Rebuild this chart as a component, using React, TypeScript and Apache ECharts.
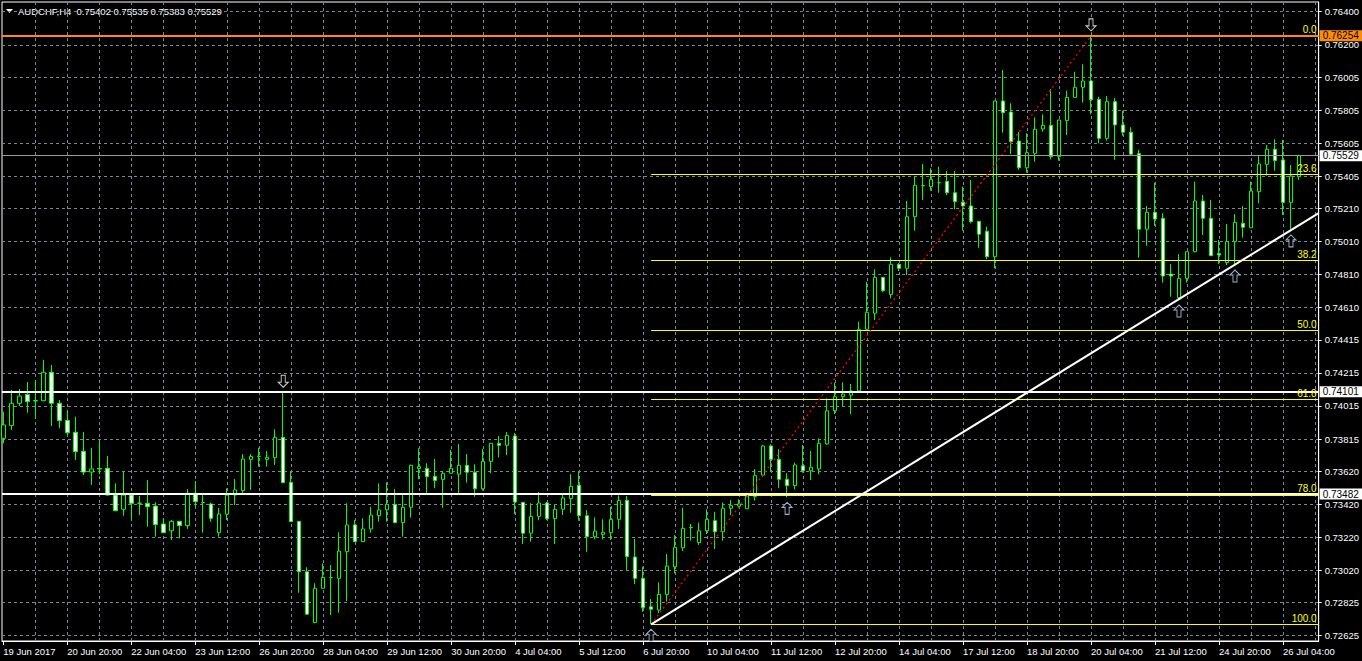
import React, { useEffect, useRef } from "react";
import * as echarts from "echarts";

// ---------- data ----------
const symbolName = "AUDCHF,H4";

const opens = [
  0.73819, 0.73896, 0.74031, 0.74085, 0.74045, 0.74047, 0.74219, 0.74031, 0.73928, 0.73856,
  0.73741, 0.73615, 0.73636, 0.73638, 0.73476, 0.73390, 0.73476, 0.73426, 0.73426, 0.73409,
  0.73301, 0.73260, 0.73317, 0.73291, 0.73487, 0.73430, 0.73422, 0.73248, 0.73360, 0.73476,
  0.73503, 0.73692, 0.73710, 0.73692, 0.73702, 0.73825, 0.73553, 0.73317, 0.73012, 0.72705,
  0.72912, 0.72976, 0.72972, 0.73133, 0.73295, 0.73194, 0.73271, 0.73351, 0.73386, 0.73420,
  0.73309, 0.73402, 0.73636, 0.73636, 0.73589, 0.73571, 0.73608, 0.73602, 0.73656, 0.73614,
  0.73514, 0.73680, 0.73789, 0.73777, 0.73833, 0.73432, 0.73245, 0.73347, 0.73428, 0.73333,
  0.73390, 0.73454, 0.73535, 0.73351, 0.73224, 0.73238, 0.73248, 0.73329, 0.73444, 0.73101,
  0.72972, 0.72800, 0.72780, 0.72875, 0.73042, 0.73157, 0.73279, 0.73188, 0.73260, 0.73321,
  0.73254, 0.73396, 0.73409, 0.73393, 0.73466, 0.73597, 0.73773, 0.73692, 0.73571, 0.73533,
  0.73653, 0.73623, 0.73634, 0.73785, 0.73986, 0.74071, 0.74080, 0.74106, 0.74479, 0.74576,
  0.74793, 0.74690, 0.74872, 0.74848, 0.75160, 0.75348, 0.75342, 0.75366, 0.75374, 0.75305,
  0.75247, 0.75225, 0.75132, 0.75072, 0.74918, 0.75860, 0.75793, 0.75618, 0.75456, 0.75543,
  0.75691, 0.75713, 0.75523, 0.75741, 0.75882, 0.75943, 0.75981, 0.75870, 0.75634, 0.75856,
  0.75715, 0.75671, 0.75543, 0.75084, 0.75187, 0.75150, 0.74813, 0.74670, 0.74787, 0.74948,
  0.75255, 0.75150, 0.74938, 0.74882, 0.75009, 0.75120, 0.75093, 0.75311, 0.75477, 0.75568,
  0.75503, 0.75247, 0.75402,
];

const closes = [
  0.73900, 0.74031, 0.74075, 0.74041, 0.74048, 0.74219, 0.74031, 0.73926, 0.73853, 0.73738,
  0.73615, 0.73634, 0.73634, 0.73476, 0.73381, 0.73476, 0.73426, 0.73427, 0.73405, 0.73297,
  0.73248, 0.73317, 0.73291, 0.73487, 0.73436, 0.73431, 0.73335, 0.73361, 0.73476, 0.73507,
  0.73694, 0.73710, 0.73711, 0.73704, 0.73825, 0.73551, 0.73315, 0.73012, 0.72755, 0.72912,
  0.72978, 0.72977, 0.73137, 0.73295, 0.73194, 0.73271, 0.73355, 0.73386, 0.73420, 0.73309,
  0.73402, 0.73656, 0.73648, 0.73587, 0.73564, 0.73608, 0.73638, 0.73656, 0.73614, 0.73514,
  0.73680, 0.73789, 0.73777, 0.73837, 0.73434, 0.73245, 0.73347, 0.73428, 0.73333, 0.73390,
  0.73458, 0.73529, 0.73351, 0.73224, 0.73258, 0.73251, 0.73329, 0.73444, 0.73103, 0.72972,
  0.72794, 0.72785, 0.72875, 0.73046, 0.73160, 0.73275, 0.73280, 0.73260, 0.73329, 0.73254,
  0.73396, 0.73412, 0.73422, 0.73470, 0.73593, 0.73773, 0.73692, 0.73571, 0.73533, 0.73658,
  0.73623, 0.73644, 0.73789, 0.73986, 0.74071, 0.74087, 0.74106, 0.74479, 0.74582, 0.74793,
  0.74712, 0.74872, 0.74848, 0.75160, 0.75350, 0.75347, 0.75386, 0.75365, 0.75305, 0.75251,
  0.75225, 0.75130, 0.75054, 0.74918, 0.75860, 0.75789, 0.75614, 0.75456, 0.75547, 0.75689,
  0.75713, 0.75523, 0.75745, 0.75882, 0.75943, 0.75981, 0.75868, 0.75634, 0.75856, 0.75715,
  0.75671, 0.75538, 0.75084, 0.75187, 0.75146, 0.74801, 0.74801, 0.74787, 0.74948, 0.75255,
  0.75150, 0.74924, 0.74928, 0.75009, 0.75126, 0.75096, 0.75315, 0.75479, 0.75568, 0.75499,
  0.75247, 0.75406, 0.75529,
];

const lows = [
  0.73789, 0.73870, 0.74015, 0.73974, 0.73936, 0.74045, 0.73894, 0.73880, 0.73839, 0.73688,
  0.73597, 0.73537, 0.73602, 0.73473, 0.73379, 0.73351, 0.73321, 0.73355, 0.73284, 0.73224,
  0.73246, 0.73204, 0.73214, 0.73271, 0.73409, 0.73248, 0.73315, 0.73224, 0.73325, 0.73416,
  0.73482, 0.73507, 0.73648, 0.73648, 0.73658, 0.73547, 0.73313, 0.72885, 0.72753, 0.72700,
  0.72911, 0.72750, 0.72764, 0.72835, 0.73192, 0.73193, 0.73248, 0.73315, 0.73315, 0.73305,
  0.73224, 0.73339, 0.73571, 0.73482, 0.73517, 0.73399, 0.73606, 0.73482, 0.73551, 0.73466,
  0.73503, 0.73608, 0.73704, 0.73718, 0.73360, 0.73180, 0.73194, 0.73325, 0.73325, 0.73180,
  0.73355, 0.73369, 0.73321, 0.73133, 0.73208, 0.73208, 0.73204, 0.73271, 0.73022, 0.72938,
  0.72770, 0.72694, 0.72761, 0.72831, 0.73002, 0.73137, 0.73200, 0.73174, 0.73240, 0.73150,
  0.73200, 0.73355, 0.73396, 0.73392, 0.73442, 0.73587, 0.73617, 0.73520, 0.73462, 0.73511,
  0.73611, 0.73567, 0.73602, 0.73781, 0.73966, 0.74011, 0.73966, 0.74105, 0.74468, 0.74535,
  0.74704, 0.74666, 0.74831, 0.74807, 0.75075, 0.75261, 0.75317, 0.75305, 0.75291, 0.75205,
  0.75075, 0.75120, 0.74972, 0.74904, 0.74848, 0.75668, 0.75539, 0.75443, 0.75426, 0.75493,
  0.75674, 0.75507, 0.75499, 0.75654, 0.75881, 0.75850, 0.75779, 0.75604, 0.75620, 0.75503,
  0.75650, 0.75533, 0.74912, 0.74984, 0.75104, 0.74761, 0.74676, 0.74656, 0.74761, 0.74945,
  0.75049, 0.74923, 0.74874, 0.74868, 0.74868, 0.75033, 0.75092, 0.75241, 0.75408, 0.75438,
  0.75170, 0.75080, 0.75383,
];

const highs = [
  0.73980, 0.74112, 0.74118, 0.74160, 0.74172, 0.74293, 0.74263, 0.74051, 0.73991, 0.73950,
  0.73857, 0.73762, 0.73805, 0.73712, 0.73547, 0.73621, 0.73481, 0.73472, 0.73567, 0.73432,
  0.73335, 0.73325, 0.73319, 0.73511, 0.73561, 0.73476, 0.73430, 0.73398, 0.73517, 0.73573,
  0.73724, 0.73724, 0.73762, 0.73742, 0.73874, 0.74098, 0.73617, 0.73319, 0.73039, 0.72942,
  0.73063, 0.73053, 0.73251, 0.73426, 0.73325, 0.73335, 0.73405, 0.73547, 0.73553, 0.73513,
  0.73476, 0.73660, 0.73759, 0.73668, 0.73694, 0.73621, 0.73749, 0.73785, 0.73724, 0.73662,
  0.73756, 0.73790, 0.73833, 0.73857, 0.73851, 0.73433, 0.73426, 0.73494, 0.73434, 0.73416,
  0.73487, 0.73602, 0.73617, 0.73386, 0.73341, 0.73329, 0.73405, 0.73474, 0.73470, 0.73210,
  0.73042, 0.72847, 0.72948, 0.73119, 0.73234, 0.73399, 0.73301, 0.73309, 0.73390, 0.73375,
  0.73430, 0.73446, 0.73450, 0.73490, 0.73634, 0.73779, 0.73783, 0.73753, 0.73608, 0.73672,
  0.73779, 0.73742, 0.73819, 0.74061, 0.74156, 0.74158, 0.74148, 0.74525, 0.74767, 0.74842,
  0.74795, 0.74914, 0.74880, 0.75255, 0.75406, 0.75479, 0.75453, 0.75462, 0.75436, 0.75436,
  0.75342, 0.75382, 0.75133, 0.75100, 0.75861, 0.76048, 0.75846, 0.75674, 0.75665, 0.75761,
  0.75779, 0.75933, 0.75746, 0.75922, 0.76037, 0.76082, 0.76254, 0.75886, 0.75890, 0.75878,
  0.75801, 0.75701, 0.75564, 0.75225, 0.75366, 0.75181, 0.74874, 0.74934, 0.74949, 0.75372,
  0.75291, 0.75261, 0.75019, 0.75116, 0.75176, 0.75225, 0.75372, 0.75527, 0.75594, 0.75628,
  0.75624, 0.75473, 0.75535,
];

// bar indices carrying a date label on the time axis, and their texts
const xTickBars = [0, 8, 16, 24, 32, 40, 48, 56, 64, 72, 80, 88, 96, 104, 112, 120, 128, 136, 144, 152, 160];
const xTickLabels = [
  "19 Jun 2017", "20 Jun 20:00", "22 Jun 04:00", "23 Jun 12:00", "26 Jun 20:00", "28 Jun 04:00",
  "29 Jun 12:00", "30 Jun 20:00", "4 Jul 04:00", "5 Jul 12:00", "6 Jul 20:00", "10 Jul 04:00",
  "11 Jul 12:00", "12 Jul 20:00", "14 Jul 04:00", "17 Jul 12:00", "18 Jul 20:00", "20 Jul 04:00",
  "21 Jul 12:00", "24 Jul 20:00", "26 Jul 04:00",
];
// vertical grid every 4 bars
const xGridBars = [
  4, 8, 12, 16, 20, 24, 28, 32, 36, 40, 44, 48, 52, 56, 60, 64, 68, 72, 76, 80, 84,
  88, 92, 96, 100, 104, 108, 112, 116, 120, 124, 128, 132, 136, 140, 144, 148, 152, 156, 160, 164,
];
// price scale labels
const yTickValues = [
  0.76400, 0.76200, 0.76005, 0.75805, 0.75605, 0.75405, 0.75210, 0.75010, 0.74810, 0.74610,
  0.74415, 0.74215, 0.74015, 0.73815, 0.73620, 0.73420, 0.73220, 0.73020, 0.72825, 0.72625,
];

// objects drawn on the chart
const fibLevels = [0, 23.6, 38.2, 50, 61.8, 78, 100];
const fibLowBar = 81;
const fibHighBar = 136;
const whiteLevels = [0.74101, 0.73482];
const orangeLevel = 0.76254;
const trendLine = [
  [81, 0.72694],
  [164.4625, 0.75182],
];
const upArrowBars = [81, 98, 147, 154, 161];
const downArrowBars = [35, 136];

const X_MIN = -0.1625;
const X_MAX = 164.4625;
const Y_MIN = 0.72593;
const Y_MAX = 0.764589;

const FONT = "'Liberation Sans', Arial, sans-serif";

export default function App() {
  const ref = useRef<HTMLDivElement>(null);

  useEffect(() => {
    document.body.style.margin = "0";
    document.body.style.background = "#000";
    const chart = echarts.init(ref.current as HTMLDivElement, null, { renderer: "svg" });

    const n = opens.length;
    const candleData = opens.map((o, i) => [i, o, closes[i], lows[i], highs[i]]);
    const fibLow = lows[fibLowBar];
    const fibHigh = highs[fibHighBar];
    const last = n - 1;

    const priceLabel = (bg: string) => ({
      show: true,
      position: "end",
      distance: 1,
      formatter: (p: any) => Number(p.value).toFixed(5),
      backgroundColor: bg,
      color: "#000",
      fontSize: 10,
      fontFamily: FONT,
      lineHeight: 11,
      padding: [0, 8, 0, 3],
    });

    const markData: any[] = [];
    fibLevels.forEach((lvl) => {
      const price = fibHigh - (lvl / 100) * (fibHigh - fibLow);
      markData.push([
        {
          coord: [fibLowBar, price],
          lineStyle: { color: "#ffff00", width: 1, type: "solid" },
          label: {
            show: true,
            position: "insideEndTop",
            formatter: lvl.toFixed(1),
            color: "#ffff00",
            fontSize: 10,
            fontFamily: FONT,
            distance: [2, 1],
          },
        },
        { coord: [X_MAX, price] },
      ]);
    });
    markData.push([
      {
        coord: [fibLowBar, fibLow],
        lineStyle: { color: "#ff0000", width: 1.3, type: [2, 3] },
        label: { show: false },
      },
      { coord: [fibHighBar, fibHigh] },
    ]);
    whiteLevels.forEach((v) => {
      markData.push({
        yAxis: v,
        lineStyle: { color: "#ffffff", width: 2, type: "solid" },
        label: priceLabel("#ffffff"),
      });
    });
    markData.push({
      yAxis: closes[last],
      lineStyle: { color: "#9a9a9a", width: 1, type: "solid" },
      label: priceLabel("#ffffff"),
    });
    markData.push({
      yAxis: orangeLevel,
      lineStyle: { color: "#ff8c00", width: 2, type: "solid" },
      label: priceLabel("#ff8c00"),
    });
    markData.push([
      {
        coord: trendLine[0],
        lineStyle: { color: "#ffffff", width: 2, type: "solid" },
        label: { show: false },
      },
      { coord: trendLine[1] },
    ]);

    const gridLine = { show: true, lineStyle: { color: "#778899", width: 1, type: [3, 3] } };

    chart.setOption({
      animation: false,
      backgroundColor: "#000",
      textStyle: { fontFamily: FONT },
      grid: {
        left: 2,
        top: 2,
        right: 43,
        bottom: 20,
        show: true,
        borderColor: "#ffffff",
        borderWidth: 1,
        backgroundColor: "#000",
      },
      xAxis: [
        {
          type: "value",
          min: X_MIN,
          max: X_MAX,
          position: "bottom",
          axisLine: { show: true, onZero: false, lineStyle: { color: "#ffffff", width: 1 } },
          axisTick: { show: true, length: 4, customValues: xTickBars, lineStyle: { color: "#ffffff" } },
          axisLabel: {
            show: true,
            customValues: xTickBars,
            formatter: (v: number) => {
              const k = xTickBars.indexOf(Math.round(v));
              return k >= 0 ? xTickLabels[k] : "";
            },
            color: "#ffffff",
            fontSize: 9.5,
            fontFamily: FONT,
            align: "left",
            margin: 5,
          },
          splitLine: { show: false },
        },
        {
          type: "value",
          min: X_MIN,
          max: X_MAX,
          position: "top",
          axisLine: { show: false },
          axisTick: { show: false, customValues: xGridBars },
          axisLabel: { show: false, customValues: xGridBars },
          splitLine: gridLine,
        },
      ],
      yAxis: {
        type: "value",
        position: "right",
        min: Y_MIN,
        max: Y_MAX,
        axisLine: { show: true, onZero: false, lineStyle: { color: "#ffffff", width: 1 } },
        axisTick: { show: true, length: 3, customValues: yTickValues, lineStyle: { color: "#ffffff" } },
        axisLabel: {
          show: true,
          customValues: yTickValues,
          formatter: (v: number) => v.toFixed(5),
          color: "#ffffff",
          fontSize: 9.5,
          fontFamily: FONT,
          margin: 6,
        },
        splitLine: gridLine,
      },
      graphic: [
        {
          type: "polygon",
          shape: { points: [[6, 9], [13, 9], [9.5, 13]] },
          style: { fill: "#ffffff" },
          silent: true,
        },
        {
          type: "text",
          x: 18,
          y: 11,
          style: {
            text: `${symbolName}  ${opens[last].toFixed(5)} ${highs[last].toFixed(5)} ${lows[last].toFixed(5)} ${closes[last].toFixed(5)}`,
            fill: "#ffffff",
            fontSize: 9.5,
            fontFamily: FONT,
            verticalAlign: "middle",
          },
          silent: true,
        },
      ],
      series: [
        {
          type: "candlestick",
          xAxisIndex: 0,
          yAxisIndex: 0,
          data: candleData,
          barWidth: 4,
          clip: true,
          silent: true,
          itemStyle: {
            color: "#000000",
            color0: "#ffffff",
            borderColor: "#00ff00",
            borderColor0: "#00ff00",
            borderColorDoji: "#00ff00",
            borderWidth: 1,
          },
          markLine: {
            silent: true,
            symbol: ["none", "none"],
            animation: false,
            precision: 5,
            data: markData,
          },
        },
        {
          type: "scatter",
          xAxisIndex: 0,
          data: upArrowBars.map((b) => [b, lows[b]]),
          symbol: "path://M5,0 L10,5 L7,5 L7,12 L3,12 L3,5 L0,5 Z",
          symbolSize: [10, 12],
          symbolOffset: [0, 11],
          itemStyle: { color: "#000000", borderColor: "#bfe0ff", borderWidth: 1 },
          silent: true,
          z: 5,
        },
        {
          type: "scatter",
          xAxisIndex: 0,
          data: downArrowBars.map((b) => [b, highs[b]]),
          symbol: "path://M5,12 L10,7 L7,7 L7,0 L3,0 L3,7 L0,7 Z",
          symbolSize: [10, 12],
          symbolOffset: [0, -11],
          itemStyle: { color: "#000000", borderColor: "#ffffff", borderWidth: 1 },
          silent: true,
          z: 5,
        },
      ],
    });

    return () => chart.dispose();
  }, []);

  return <div ref={ref} style={{ width: 1362, height: 661, background: "#000" }} />;
}
